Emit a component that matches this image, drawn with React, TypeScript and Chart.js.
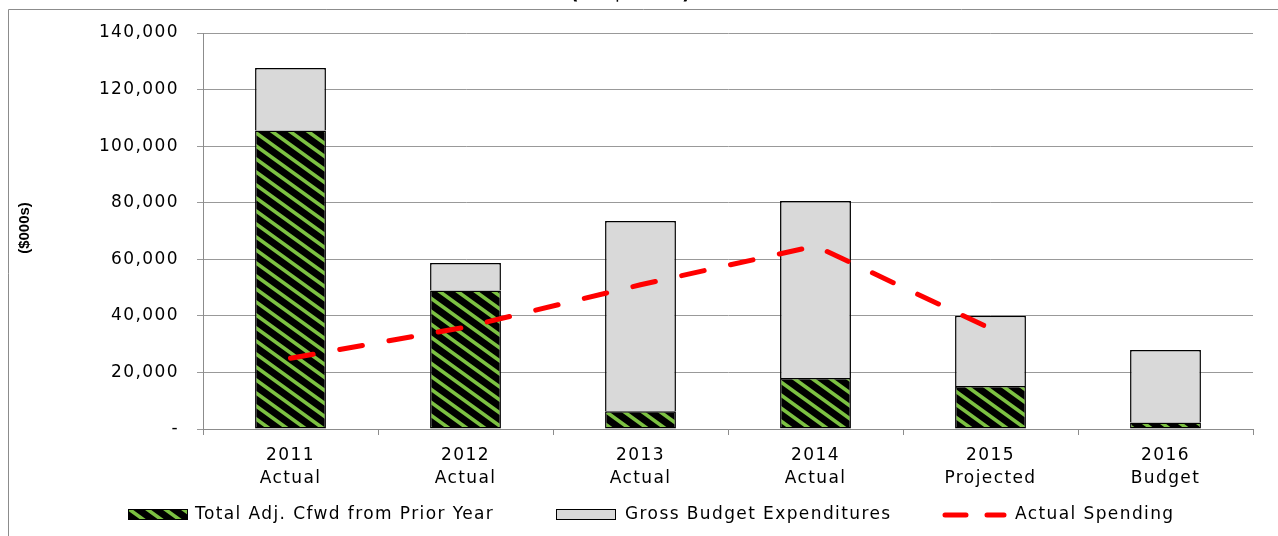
import React, { useEffect, useRef } from 'react';
import { Chart, registerables } from 'chart.js';

Chart.register(...registerables);

// ---- data ----
const years = ['2011', '2012', '2013', '2014', '2015', '2016'];
const periodTypes = ['Actual', 'Actual', 'Actual', 'Actual', 'Projected', 'Budget'];
const carryForward = [105500, 49000, 6300, 18000, 15200, 2300];
const grossBudget = [22100, 9700, 67200, 62600, 24800, 25600];
const actualSpending: (number | null)[] = [25000, 36000, 51000, 64700, 35500, null];
const yTickLabels = ['-', '20,000', '40,000', '60,000', '80,000', '100,000', '120,000', '140,000'];
const seriesNames = ['Total Adj. Cfwd from Prior Year', 'Gross Budget Expenditures', 'Actual Spending'];
const chartTitle = '(in $000s)';
const yAxisTitle = '($000s)';

const FONT = 'DejaVu Sans';
const LS = '1.4px';

function makeStripePattern(ctx: CanvasRenderingContext2D) {
  const W = 18;
  const H = 13;
  const c = document.createElement('canvas');
  c.width = W;
  c.height = H;
  const g = c.getContext('2d')!;
  g.fillStyle = '#000';
  g.fillRect(0, 0, W, H);
  g.strokeStyle = '#7cc142';
  g.lineWidth = 3.6;
  g.beginPath();
  for (const k of [-W, 0, W]) {
    g.moveTo(k - W / 4, -H / 4);
    g.lineTo(k + W + W / 4, H + H / 4);
  }
  g.stroke();
  return ctx.createPattern(c, 'repeat')!;
}

export default function App() {
  const ref = useRef<HTMLCanvasElement | null>(null);

  useEffect(() => {
    const canvas = ref.current!;
    const ctx0 = canvas.getContext('2d')!;
    const pattern = makeStripePattern(ctx0);

    const decor = {
      id: 'decor',
      beforeDraw(chart: any) {
        (chart.ctx as any).letterSpacing = LS;
      },
      afterDraw(chart: any) {
        const ctx: CanvasRenderingContext2D = chart.ctx;
        ctx.save();
        // outer frame
        ctx.strokeStyle = '#8c8c8c';
        ctx.lineWidth = 1;
        ctx.beginPath();
        ctx.moveTo(8.5, 540);
        ctx.lineTo(8.5, 9.5);
        ctx.lineTo(1290, 9.5);
        ctx.stroke();

        // title (mostly cut off at top)
        (ctx as any).letterSpacing = LS;
        ctx.fillStyle = '#000';
        ctx.font = `bold 19px "${FONT}"`;
        ctx.textAlign = 'center';
        ctx.textBaseline = 'alphabetic';
        ctx.fillText(chartTitle, 631, -1.5);

        // y axis title
        (ctx as any).letterSpacing = '0px';
        ctx.save();
        ctx.translate(25, 228);
        ctx.rotate(-Math.PI / 2);
        ctx.font = 'bold 15px "Liberation Sans"';
        ctx.textAlign = 'center';
        ctx.textBaseline = 'middle';
        ctx.fillText(yAxisTitle, 0, 0);
        ctx.restore();

        // legend
        (ctx as any).letterSpacing = LS;
        const ly = 515;
        ctx.font = `17px "${FONT}"`;
        ctx.textAlign = 'left';
        ctx.textBaseline = 'middle';
        ctx.lineWidth = 1;
        // item 1
        ctx.fillStyle = pattern;
        ctx.fillRect(128, 509, 60, 11);
        ctx.strokeStyle = '#000';
        ctx.strokeRect(128.5, 509.5, 59, 10);
        ctx.fillStyle = '#000';
        ctx.fillText(seriesNames[0], 195, ly);
        // item 2
        ctx.fillStyle = '#d9d9d9';
        ctx.fillRect(556, 509, 60, 11);
        ctx.strokeRect(556.5, 509.5, 59, 10);
        ctx.fillStyle = '#000';
        ctx.fillText(seriesNames[1], 625, ly);
        // item 3
        ctx.strokeStyle = '#ff0000';
        ctx.lineWidth = 5;
        ctx.lineCap = 'round';
        ctx.beginPath();
        ctx.moveTo(945, ly);
        ctx.lineTo(966, ly);
        ctx.moveTo(987, ly);
        ctx.lineTo(1004, ly);
        ctx.stroke();
        ctx.fillStyle = '#000';
        ctx.fillText(seriesNames[2], 1015, ly);
        ctx.restore();
      },
    };

    const chart = new Chart(canvas, {
      data: {
        labels: years.map((y, i) => [y, periodTypes[i]]),
        datasets: [
          {
            type: 'line',
            label: seriesNames[2],
            data: actualSpending,
            borderColor: '#ff0000',
            borderWidth: 5,
            borderDash: [23, 27],
            borderCapStyle: 'round',
            pointRadius: 0,
            fill: false,
            tension: 0,
            order: 0,
            stack: 'line',
          } as any,
          {
            type: 'bar',
            label: seriesNames[0],
            data: carryForward,
            backgroundColor: pattern,
            borderColor: '#000',
            borderWidth: 1.5,
            borderSkipped: false,
            order: 1,
            stack: 'bars',
            barPercentage: 0.405,
            categoryPercentage: 1,
          } as any,
          {
            type: 'bar',
            label: seriesNames[1],
            data: grossBudget,
            backgroundColor: '#d9d9d9',
            borderColor: '#000',
            borderWidth: { top: 1.5, left: 1.5, right: 1.5, bottom: 0 },
            borderSkipped: false,
            order: 1,
            stack: 'bars',
            barPercentage: 0.405,
            categoryPercentage: 1,
          } as any,
        ],
      },
      options: {
        responsive: false,
        animation: false,
        devicePixelRatio: 1,
        layout: { padding: { left: 0, right: 25, top: 33, bottom: 37 } },
        plugins: {
          legend: { display: false },
          title: { display: false },
          tooltip: { enabled: false },
        },
        scales: {
          x: {
            stacked: true,
            grid: {
              display: true,
              drawOnChartArea: false,
              drawTicks: true,
              tickLength: 6,
              color: '#8c8c8c',
              offset: true,
            },
            border: { display: true, color: '#8c8c8c', width: 1 },
            ticks: {
              color: '#000',
              font: { family: FONT, size: 17, lineHeight: 1.35 },
              padding: 9,
              maxRotation: 0,
              autoSkip: false,
            },
            afterFit: (s: any) => {
              s.height = 70;
            },
          },
          y: {
            stacked: true,
            min: 0,
            max: 140000,
            ticks: {
              stepSize: 20000,
              callback: (_v: any, i: number) => yTickLabels[i],
              color: '#000',
              font: { family: FONT, size: 17 },
              padding: 18,
            },
            grid: { color: '#999999', tickLength: 6, drawTicks: true },
            border: { display: true, color: '#8c8c8c', width: 1 },
            afterFit: (s: any) => {
              s.width = 203;
            },
          },
        },
      } as any,
      plugins: [decor],
    });

    return () => chart.destroy();
  }, []);

  return (
    <div style={{ position: 'fixed', left: 0, top: 0, width: 1278, height: 536, background: '#fff' }}>
      <canvas ref={ref} width={1278} height={536} style={{ display: 'block', width: 1278, height: 536 }} />
    </div>
  );
}
